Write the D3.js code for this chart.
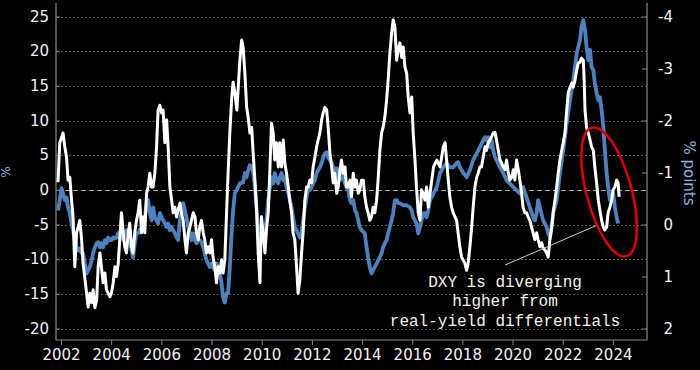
<!DOCTYPE html>
<html><head><meta charset="utf-8">
<script src="https://cdn.jsdelivr.net/npm/d3@7"></script>
<style>html,body{margin:0;padding:0;background:#000;} svg{display:block;}</style>
</head><body>
<svg id="chart" width="700" height="370"></svg>
<script>
// ---------- DATA ----------
const xTickYears = [2002,2004,2006,2008,2010,2012,2014,2016,2018,2020,2022,2024];
const leftTicks = [25,20,15,10,5,0,-5,-10,-15,-20];
const rightTicks = [-4,-3,-2,-1,0,1,2];
const leftTitle = "%";
const rightTitle = "% points";
const annotationLines = ["DXY is diverging", "higher from", "real-yield differentials"];

// DXY YoY % change (left axis) : [year, %]
const dxyYoY = [[2001.88,1.1],[2001.95,6.8],[2002.08,8.2],[2002.15,6.2],[2002.22,4.7],[2002.28,1.4],[2002.35,1.8],[2002.42,-1.5],[2002.48,-3.9],[2002.55,-11.1],[2002.62,-6.2],[2002.68,-5.4],[2002.75,-4.4],[2002.82,-7.2],[2002.88,-10.6],[2003.02,-14.9],[2003.08,-16.9],[2003.15,-14.9],[2003.22,-16.3],[2003.28,-14.4],[2003.35,-17.0],[2003.42,-15.9],[2003.48,-11.1],[2003.55,-9.1],[2003.61,-11.1],[2003.68,-13.4],[2003.75,-12.0],[2003.81,-14.4],[2003.88,-14.9],[2003.95,-15.4],[2004.01,-14.9],[2004.08,-13.4],[2004.15,-11.1],[2004.21,-12.5],[2004.28,-10.6],[2004.34,-7.2],[2004.41,-3.3],[2004.48,-6.2],[2004.54,-8.2],[2004.61,-9.1],[2004.68,-6.2],[2004.74,-4.8],[2004.81,-8.2],[2004.87,-9.1],[2004.94,-6.2],[2005.01,-4.4],[2005.07,-3.3],[2005.14,-1.5],[2005.21,-6.2],[2005.27,-3.9],[2005.34,-6.2],[2005.41,-0.5],[2005.47,0.4],[2005.54,2.4],[2005.61,0.4],[2005.67,0.4],[2005.74,2.4],[2005.81,6.2],[2005.87,11.5],[2005.94,12.2],[2006.01,11.1],[2006.07,11.5],[2006.14,6.8],[2006.21,10.1],[2006.27,6.2],[2006.34,0.4],[2006.41,-1.5],[2006.47,-3.3],[2006.54,-2.5],[2006.61,-3.9],[2006.67,-2.9],[2006.74,-1.9],[2006.80,-3.3],[2006.87,-4.4],[2006.94,-7.2],[2007.00,-9.1],[2007.07,-6.2],[2007.14,-5.4],[2007.20,-4.4],[2007.27,-3.3],[2007.34,-3.9],[2007.40,-6.2],[2007.47,-7.2],[2007.53,-5.4],[2007.60,-4.4],[2007.67,-6.2],[2007.73,-7.2],[2007.80,-9.1],[2007.87,-8.2],[2007.93,-9.1],[2008.00,-7.2],[2008.06,-9.7],[2008.13,-11.1],[2008.20,-13.4],[2008.26,-11.1],[2008.33,-12.0],[2008.40,-10.1],[2008.46,-12.0],[2008.53,-10.1],[2008.60,-3.3],[2008.66,2.4],[2008.73,8.2],[2008.80,13.0],[2008.86,15.5],[2008.93,14.0],[2009.01,11.5],[2009.13,18.7],[2009.20,21.6],[2009.26,20.6],[2009.33,16.8],[2009.40,11.9],[2009.46,10.5],[2009.53,8.2],[2009.60,9.0],[2009.66,5.3],[2009.73,1.4],[2009.79,-2.5],[2009.86,-9.1],[2009.93,-13.4],[2009.99,-3.9],[2010.06,-6.2],[2010.13,-9.1],[2010.19,-5.8],[2010.26,-3.3],[2010.33,3.3],[2010.39,9.6],[2010.46,8.2],[2010.52,4.3],[2010.59,6.8],[2010.66,3.3],[2010.72,6.8],[2010.79,3.3],[2010.86,7.2],[2010.92,3.9],[2010.99,2.4],[2011.06,0.4],[2011.12,-1.5],[2011.19,-3.3],[2011.25,-6.2],[2011.32,-7.2],[2011.39,-11.1],[2011.45,-14.9],[2011.52,-13.0],[2011.59,-9.1],[2011.65,-6.2],[2011.72,-1.5],[2011.79,0.4],[2011.85,0.4],[2011.92,1.4],[2011.99,1.0],[2012.05,3.3],[2012.12,4.7],[2012.19,6.2],[2012.25,7.2],[2012.32,8.2],[2012.39,10.1],[2012.45,11.1],[2012.52,11.9],[2012.59,11.5],[2012.65,9.0],[2012.72,5.3],[2012.79,3.3],[2012.85,1.0],[2012.92,2.4],[2012.99,-0.5],[2013.05,0.4],[2013.12,2.9],[2013.18,4.3],[2013.25,2.4],[2013.32,3.3],[2013.38,0.4],[2013.45,0.4],[2013.52,1.4],[2013.58,-1.0],[2013.65,2.4],[2013.72,0.4],[2013.78,1.4],[2013.85,-0.5],[2013.91,0.0],[2013.98,1.4],[2014.05,1.4],[2014.11,-1.0],[2014.18,-2.5],[2014.24,-3.3],[2014.31,-4.4],[2014.38,-3.9],[2014.44,-2.5],[2014.51,-3.3],[2014.58,-1.5],[2014.64,1.4],[2014.71,5.7],[2014.78,8.2],[2014.84,9.0],[2014.91,10.5],[2014.98,13.0],[2015.04,15.8],[2015.11,19.7],[2015.18,22.6],[2015.24,24.5],[2015.31,23.5],[2015.38,18.7],[2015.44,20.2],[2015.51,21.2],[2015.58,19.1],[2015.64,20.6],[2015.71,17.7],[2015.78,16.8],[2015.84,13.4],[2015.91,11.1],[2015.98,13.4],[2016.04,8.2],[2016.11,4.3],[2016.17,0.4],[2016.24,-3.3],[2016.31,-4.4],[2016.37,0.0],[2016.44,-0.5],[2016.51,-1.5],[2016.57,0.4],[2016.64,-2.5],[2016.71,-0.5],[2016.85,3.3],[2016.98,4.3],[2017.11,3.3],[2017.24,6.2],[2017.31,6.8],[2017.37,4.3],[2017.43,1.8],[2017.50,-1.0],[2017.57,-2.5],[2017.63,-3.3],[2017.77,-4.4],[2017.83,-6.2],[2017.90,-8.2],[2017.97,-9.7],[2018.10,-10.6],[2018.17,-11.6],[2018.23,-10.6],[2018.30,-8.2],[2018.37,-5.4],[2018.43,-2.5],[2018.50,0.4],[2018.57,1.8],[2018.63,2.4],[2018.70,3.3],[2018.76,3.3],[2018.83,4.7],[2018.90,6.2],[2018.96,5.7],[2019.03,6.8],[2019.10,7.2],[2019.16,7.6],[2019.23,8.2],[2019.30,8.3],[2019.36,7.2],[2019.43,5.7],[2019.50,4.3],[2019.56,3.9],[2019.63,3.3],[2019.70,2.9],[2019.76,4.3],[2019.83,2.4],[2019.89,1.4],[2019.96,1.8],[2020.03,2.9],[2020.09,1.4],[2020.16,4.3],[2020.23,2.9],[2020.29,1.4],[2020.36,-0.5],[2020.42,-2.5],[2020.49,-3.3],[2020.56,-3.3],[2020.62,-3.9],[2020.69,-4.4],[2020.76,-5.4],[2020.82,-6.2],[2020.89,-7.2],[2020.96,-6.2],[2021.02,-7.2],[2021.09,-8.2],[2021.16,-7.6],[2021.22,-8.4],[2021.29,-8.7],[2021.36,-9.1],[2021.42,-9.7],[2021.49,-7.2],[2021.56,-5.4],[2021.62,-3.3],[2021.69,-1.5],[2021.76,0.4],[2021.82,2.4],[2021.89,4.3],[2021.96,5.7],[2022.02,6.8],[2022.09,8.2],[2022.16,11.5],[2022.22,14.0],[2022.29,14.8],[2022.36,15.4],[2022.42,14.8],[2022.49,15.8],[2022.56,17.3],[2022.62,18.3],[2022.69,18.4],[2022.75,19.0],[2022.82,18.7],[2022.85,16.3],[2022.89,11.5],[2022.95,9.0],[2023.02,8.2],[2023.09,7.2],[2023.15,6.2],[2023.22,5.7],[2023.28,3.3],[2023.35,1.0],[2023.42,-1.5],[2023.48,-2.9],[2023.55,-4.4],[2023.62,-5.4],[2023.68,-5.8],[2023.75,-5.4],[2023.81,-3.3],[2023.88,-2.5],[2023.95,-1.5],[2024.01,0.0],[2024.08,0.4],[2024.15,1.4],[2024.21,1.0],[2024.25,-1.0]];

// Real-yield differential (right axis, inverted) : [year, % points]
const realYieldDiff = [[2001.88,-0.27],[2001.95,-0.47],[2002.02,-0.70],[2002.08,-0.60],[2002.15,-0.47],[2002.22,-0.52],[2002.28,-0.33],[2002.35,-0.22],[2002.42,-0.02],[2002.48,0.11],[2002.55,0.30],[2002.62,0.44],[2002.68,0.50],[2002.75,0.46],[2002.82,0.55],[2002.88,0.55],[2002.95,0.75],[2003.02,0.94],[2003.08,0.88],[2003.15,0.82],[2003.22,0.69],[2003.28,0.55],[2003.35,0.44],[2003.42,0.36],[2003.48,0.34],[2003.55,0.44],[2003.61,0.36],[2003.68,0.44],[2003.75,0.30],[2003.81,0.36],[2003.88,0.25],[2003.95,0.30],[2004.01,0.30],[2004.08,0.25],[2004.15,0.27],[2004.21,0.25],[2004.28,0.17],[2004.34,0.25],[2004.41,0.17],[2004.48,0.30],[2004.54,0.17],[2004.61,0.11],[2004.68,0.17],[2004.74,0.30],[2004.81,0.50],[2004.87,0.63],[2004.94,0.36],[2005.01,0.17],[2005.07,0.17],[2005.14,0.11],[2005.27,0.05],[2005.34,-0.14],[2005.41,-0.41],[2005.47,-0.47],[2005.54,-0.22],[2005.61,-0.08],[2005.67,-0.33],[2005.74,-0.14],[2005.81,-0.08],[2005.87,-0.02],[2005.94,-0.22],[2006.01,-0.14],[2006.07,-0.08],[2006.14,-0.02],[2006.21,0.05],[2006.27,-0.02],[2006.34,0.11],[2006.41,0.05],[2006.47,0.11],[2006.54,0.17],[2006.61,0.25],[2006.67,0.30],[2006.74,-0.08],[2006.80,-0.22],[2006.87,-0.41],[2006.94,-0.27],[2007.00,-0.14],[2007.07,0.05],[2007.14,0.17],[2007.20,0.30],[2007.27,0.17],[2007.34,0.30],[2007.40,0.36],[2007.47,0.30],[2007.53,0.30],[2007.60,0.34],[2007.67,0.44],[2007.73,0.55],[2007.80,0.69],[2007.87,0.75],[2007.93,0.82],[2008.00,0.75],[2008.06,0.82],[2008.13,0.88],[2008.20,0.75],[2008.26,0.82],[2008.33,0.94],[2008.40,1.13],[2008.46,1.40],[2008.53,1.50],[2008.60,1.32],[2008.66,1.32],[2008.73,0.82],[2008.80,0.17],[2008.86,-0.27],[2008.93,-0.60],[2009.00,-0.66],[2009.06,-0.72],[2009.13,-0.79],[2009.26,-0.81],[2009.33,-0.99],[2009.40,-0.91],[2009.46,-1.04],[2009.53,-1.14],[2009.60,-1.10],[2009.66,-0.99],[2009.73,-0.72],[2009.79,-0.33],[2009.86,0.05],[2009.93,0.30],[2009.99,0.21],[2010.06,0.17],[2010.13,0.11],[2010.19,-0.08],[2010.26,-0.47],[2010.33,-0.72],[2010.39,-0.91],[2010.46,-0.79],[2010.52,-0.99],[2010.59,-0.85],[2010.66,-0.79],[2010.72,-0.91],[2010.79,-0.99],[2010.86,-0.85],[2010.92,-0.91],[2010.99,-0.72],[2011.06,-0.60],[2011.12,-0.47],[2011.19,-0.33],[2011.25,-0.14],[2011.32,0.05],[2011.39,0.11],[2011.45,0.17],[2011.52,0.25],[2011.59,0.17],[2011.65,-0.08],[2011.72,-0.33],[2011.79,-0.52],[2011.85,-0.72],[2011.92,-0.66],[2011.99,-0.72],[2012.05,-0.79],[2012.12,-0.85],[2012.19,-0.99],[2012.25,-1.04],[2012.32,-1.10],[2012.39,-1.18],[2012.45,-1.29],[2012.52,-1.37],[2012.59,-1.39],[2012.65,-1.29],[2012.72,-1.24],[2012.79,-1.18],[2012.85,-1.10],[2012.92,-1.04],[2012.99,-1.08],[2013.05,-0.99],[2013.12,-0.85],[2013.18,-0.99],[2013.25,-0.91],[2013.32,-0.79],[2013.38,-0.72],[2013.45,-0.66],[2013.52,-0.47],[2013.58,-0.41],[2013.65,-0.47],[2013.72,-0.27],[2013.78,-0.22],[2013.85,-0.08],[2013.91,0.05],[2013.98,0.11],[2014.11,0.17],[2014.18,0.44],[2014.24,0.63],[2014.31,0.82],[2014.38,0.94],[2014.44,0.88],[2014.51,0.82],[2014.58,0.75],[2014.64,0.69],[2014.71,0.63],[2014.78,0.55],[2014.84,0.44],[2014.91,0.36],[2014.98,0.30],[2015.04,0.17],[2015.11,0.05],[2015.18,-0.08],[2015.24,-0.22],[2015.31,-0.47],[2015.38,-0.47],[2015.44,-0.41],[2015.51,-0.41],[2015.64,-0.37],[2015.78,-0.37],[2015.91,-0.33],[2015.98,-0.27],[2016.04,-0.14],[2016.11,-0.08],[2016.17,-0.02],[2016.24,0.17],[2016.31,0.05],[2016.37,-0.08],[2016.44,-0.22],[2016.51,-0.22],[2016.57,-0.14],[2016.64,-0.27],[2016.71,-0.47],[2016.85,-0.60],[2016.98,-0.72],[2017.11,-0.99],[2017.24,-1.10],[2017.37,-1.18],[2017.50,-1.10],[2017.63,-1.10],[2017.77,-1.18],[2017.83,-1.20],[2017.90,-1.10],[2018.04,-0.99],[2018.17,-0.91],[2018.30,-1.04],[2018.43,-1.24],[2018.57,-1.37],[2018.70,-1.49],[2018.83,-1.62],[2018.90,-1.68],[2018.96,-1.62],[2019.03,-1.68],[2019.10,-1.49],[2019.16,-1.62],[2019.23,-1.43],[2019.30,-1.29],[2019.36,-1.24],[2019.50,-1.10],[2019.63,-0.99],[2019.76,-0.85],[2019.89,-0.79],[2020.03,-0.72],[2020.16,-0.66],[2020.29,-0.60],[2020.42,-0.72],[2020.56,-0.52],[2020.69,-0.33],[2020.82,-0.14],[2020.89,-0.08],[2020.96,-0.22],[2021.02,-0.47],[2021.09,-0.33],[2021.22,-0.08],[2021.36,0.05],[2021.42,0.17],[2021.49,0.25],[2021.56,0.05],[2021.62,-0.22],[2021.76,-0.47],[2021.89,-0.99],[2022.02,-1.43],[2022.16,-1.95],[2022.29,-2.39],[2022.42,-2.78],[2022.56,-3.30],[2022.69,-3.55],[2022.75,-3.80],[2022.82,-3.93],[2022.89,-3.74],[2022.95,-3.41],[2023.02,-3.16],[2023.09,-3.36],[2023.15,-3.03],[2023.22,-2.97],[2023.28,-2.72],[2023.35,-2.53],[2023.42,-2.39],[2023.48,-2.45],[2023.55,-2.20],[2023.62,-1.87],[2023.68,-1.43],[2023.75,-0.99],[2023.81,-0.72],[2023.88,-0.47],[2023.95,-0.52],[2024.01,-0.60],[2024.08,-0.33],[2024.15,-0.14],[2024.21,-0.02]];

// ---------- CHART ----------
const svg = d3.select("#chart");
svg.append("rect").attr("width",700).attr("height",370).attr("fill","#000");

const plot = {left:56, right:647, top:3, bottom:340};
const x = d3.scaleLinear().domain([2001.8, 2025.36]).range([plot.left, plot.right]);
const yL = d3.scaleLinear().domain([25,-20]).range([16.5,328.5]);
const yR = d3.scaleLinear().domain([-4,2]).range([16.5,328.5]);

const fontSans = "'DejaVu Sans', sans-serif";

// gridlines
svg.append("g").selectAll("line").data(leftTicks).join("line")
  .attr("x1", plot.left+1).attr("x2", plot.right-1)
  .attr("y1", d=>Math.round(yL(d))+0.5).attr("y2", d=>Math.round(yL(d))+0.5)
  .attr("stroke", d=> d===0 ? "#a8a8a8" : "#5c5c5c")
  .attr("stroke-width", 1)
  .attr("stroke-dasharray", d=> d===0 ? "5,3" : "2,2");

// frame (left, bottom, right)
const frame = svg.append("g").attr("stroke","#8a8a8a").attr("stroke-width",1.2).attr("fill","none");
frame.append("path").attr("d",
  `M${plot.left},${plot.top}V${plot.bottom}H${plot.right}V${plot.top}`);

// left axis
const axL = svg.append("g").attr("transform",`translate(${plot.left},0)`)
  .call(d3.axisLeft(yL).tickValues(leftTicks).tickSize(-4).tickPadding(7).tickFormat(d=>String(d)));
axL.select(".domain").remove();
axL.selectAll(".tick line").attr("stroke","#8a8a8a");
axL.selectAll("text").attr("fill","#f2f2f2").style("font-family",fontSans).style("font-size","15px");

// right axis
const axR = svg.append("g").attr("transform",`translate(${plot.right},0)`)
  .call(d3.axisRight(yR).tickValues(rightTicks).tickSize(-5).tickPadding(0).tickFormat(d=>String(d)));
axR.select(".domain").remove();
axR.selectAll(".tick line").attr("stroke","#8a8a8a");
axR.selectAll("text").attr("fill","#f2f2f2").attr("text-anchor","end").attr("x",26)
  .style("font-family",fontSans).style("font-size","15px");

// bottom axis
const axB = svg.append("g").attr("transform",`translate(0,${plot.bottom})`)
  .call(d3.axisBottom(x).tickValues(xTickYears).tickSize(5).tickPadding(4).tickFormat(d=>String(d)));
axB.select(".domain").remove();
axB.selectAll(".tick line").attr("stroke","#8a8a8a");
axB.selectAll("text").attr("fill","#f2f2f2").style("font-family",fontSans).style("font-size","15px");

// axis titles
svg.append("text").attr("transform","translate(10,172) rotate(-90)")
  .attr("text-anchor","middle").attr("fill","#8fb4de")
  .style("font-family",fontSans).style("font-size","12px").text(leftTitle);
svg.append("text").attr("transform","translate(684,173) rotate(90)")
  .attr("text-anchor","middle").attr("fill","#8fb4de")
  .style("font-family",fontSans).style("font-size","15px").text(rightTitle);

// lines
const lineL = d3.line().x(d=>x(d[0])).y(d=>yL(d[1]));
const lineR = d3.line().x(d=>x(d[0])).y(d=>yR(d[1]));
const clip = svg.append("clipPath").attr("id","clip").append("rect")
  .attr("x",plot.left).attr("y",plot.top).attr("width",plot.right-plot.left).attr("height",plot.bottom-plot.top);
const lines = svg.append("g").attr("clip-path","url(#clip)");
lines.append("path").datum(realYieldDiff).attr("d",lineR)
  .attr("fill","none").attr("stroke","#4f81bd").attr("stroke-width",3.8).attr("stroke-linejoin","round");
lines.append("path").datum(dxyYoY).attr("d",lineL)
  .attr("fill","none").attr("stroke","#ffffff").attr("stroke-width",3).attr("stroke-linejoin","round");

// annotation leader line
svg.append("line")
  .attr("x1",x(2019.70)).attr("y1",yL(-10.85))
  .attr("x2",x(2023.37)).attr("y2",yL(-5.1))
  .attr("stroke","#c8c8c8").attr("stroke-width",1);

// annotation text
const ann = svg.append("text").attr("text-anchor","middle").attr("fill","#f7f5e6")
  .style("font-family","'Liberation Mono', 'DejaVu Sans Mono', monospace").style("font-size","16px");
const annBase = [287, 306, 326];
ann.selectAll("tspan").data(annotationLines).join("tspan")
  .attr("x", x(2019.70)).attr("y",(d,i)=>annBase[i]).text(d=>d);

// red ellipse
const ecx = x(2023.85), ecy = yL(-0.3);
svg.append("ellipse").attr("cx",0).attr("cy",0).attr("rx",22.5).attr("ry",66.5)
  .attr("transform",`translate(${ecx},${ecy}) rotate(-15)`)
  .attr("fill","none").attr("stroke","#e00000").attr("stroke-width",2.5);
</script>
</body></html>
